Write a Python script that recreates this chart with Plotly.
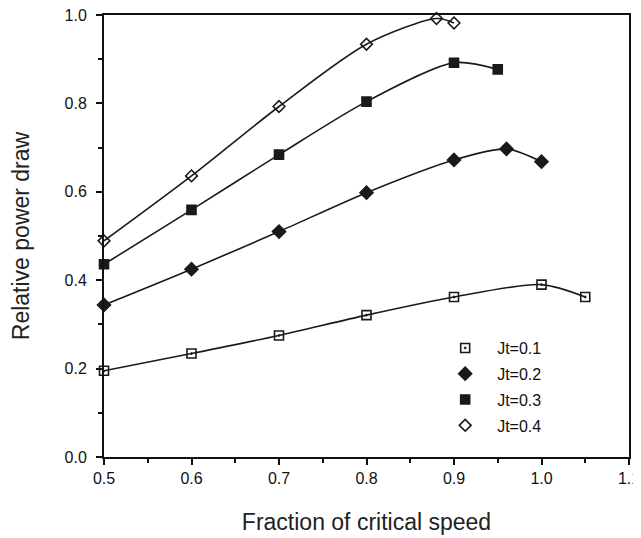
import plotly.graph_objects as go

# Data
x_jt1 = [0.5, 0.6, 0.7, 0.8, 0.9, 1.0, 1.05]
y_jt1 = [0.195, 0.234, 0.275, 0.321, 0.362, 0.390, 0.362]

x_jt2 = [0.5, 0.6, 0.7, 0.8, 0.9, 0.96, 1.0]
y_jt2 = [0.344, 0.425, 0.510, 0.598, 0.672, 0.697, 0.668]

x_jt3 = [0.5, 0.6, 0.7, 0.8, 0.9, 0.95]
y_jt3 = [0.436, 0.559, 0.684, 0.804, 0.892, 0.877]

x_jt4 = [0.5, 0.6, 0.7, 0.8, 0.88, 0.9]
y_jt4 = [0.489, 0.636, 0.793, 0.934, 0.992, 0.982]

x_ticks = [0.5, 0.6, 0.7, 0.8, 0.9, 1.0, 1.1]
y_ticks = [0.0, 0.2, 0.4, 0.6, 0.8, 1.0]

FONT = "Liberation Sans, Arial, Helvetica, sans-serif"
INK = "#1a1a1a"

series = [
    ("Jt=0.1", x_jt1, y_jt1, "square-open-dot", 9),
    ("Jt=0.2", x_jt2, y_jt2, "diamond", 10),
    ("Jt=0.3", x_jt3, y_jt3, "square", 9),
    ("Jt=0.4", x_jt4, y_jt4, "diamond-open", 9),
]

fig = go.Figure()
for name, xs, ys, sym, size in series:
    marker = dict(symbol=sym, size=size, color=INK, line=dict(color=INK, width=1.6))
    # curve + markers (kept out of the legend so the legend shows markers only)
    fig.add_trace(go.Scatter(
        x=xs, y=ys, name=name, mode="lines+markers", showlegend=False,
        line=dict(color=INK, width=1.6, shape="spline", smoothing=0.8),
        marker=marker, cliponaxis=False,
    ))
    # legend entry
    fig.add_trace(go.Scatter(
        x=[None], y=[None], name=name, legendgroup=name,
        mode="markers", marker=marker,
    ))

axis_common = dict(
    showline=True, linecolor="#111", linewidth=2, mirror=True,
    ticks="outside", ticklen=6, tickwidth=2, tickcolor="#111",
    showgrid=False, zeroline=False, automargin=False,
    ticklabeloverflow="allow",
    tickfont=dict(family=FONT, size=16, color="#111"),
)

fig.update_xaxes(
    range=[0.5, 1.1], tickvals=x_ticks, tickformat=".1f",
    minor=dict(dtick=0.05, tick0=0.5, ticks="outside", ticklen=4, tickwidth=2, tickcolor="#111"),
    ticklabelstandoff=0,
    title=dict(text="Fraction of critical speed", standoff=28,
               font=dict(family=FONT, size=23, color="#222")),
    **axis_common,
)
fig.update_yaxes(
    range=[0, 1.0], tickvals=y_ticks, tickformat=".1f",
    minor=dict(dtick=0.1, tick0=0, ticks="outside", ticklen=4, tickwidth=2, tickcolor="#111"),
    ticklabelstandoff=6,
    title=dict(text="Relative power draw", standoff=35,
               font=dict(family=FONT, size=23, color="#222")),
    **axis_common,
)

# page body adds an 8px offset, so the figure is sized to the visible area
fig.update_layout(
    width=633, height=530,
    margin=dict(l=96, r=12, t=7, b=81),
    paper_bgcolor="white", plot_bgcolor="white",
    showlegend=True,
    legend=dict(
        x=0.627, y=0.285, xanchor="left", yanchor="top",
        font=dict(family=FONT, size=16, color="#111"),
        bgcolor="rgba(0,0,0,0)", traceorder="grouped", tracegroupgap=2,
        itemwidth=54,
    ),
)

fig.write_html("out.html")
